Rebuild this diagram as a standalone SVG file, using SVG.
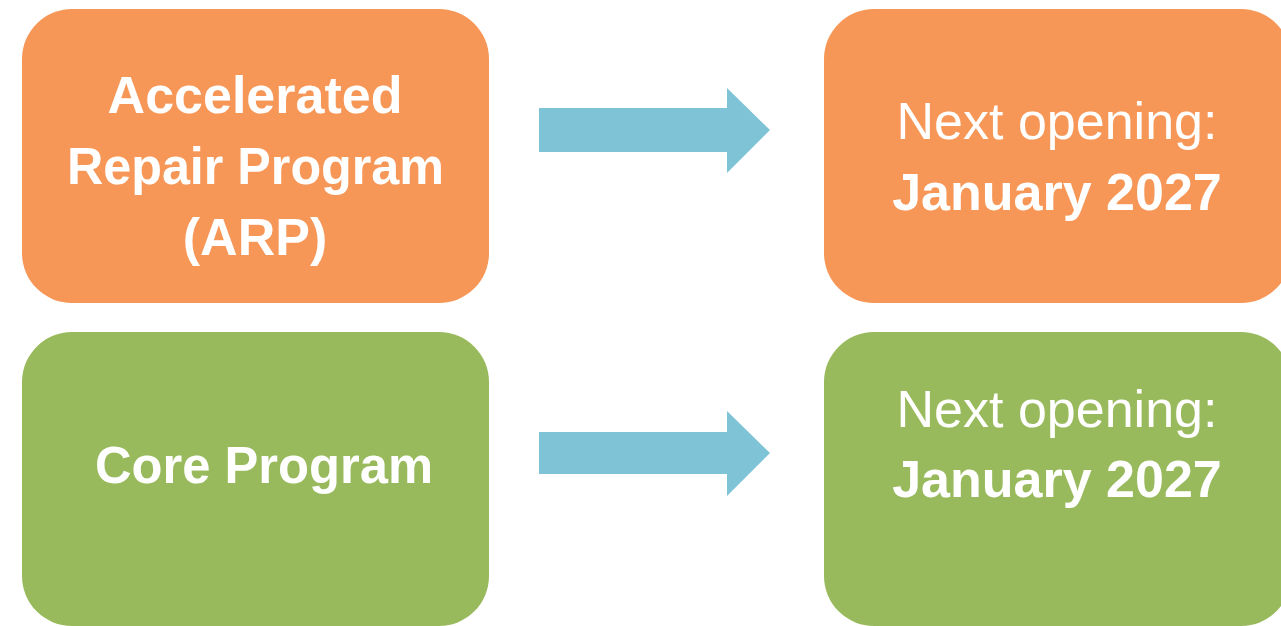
<svg xmlns="http://www.w3.org/2000/svg" width="1281" height="626" viewBox="0 0 1281 626">
<style>
.orange{fill:#F79757}
.green{fill:#99BA5C}
.arrow{fill:#7FC3D6}
.t{font-family:"Liberation Sans",Arial,sans-serif;font-size:52px;fill:#FFFFFF;text-anchor:middle}
.b{font-weight:bold}
</style>
<rect width="1281" height="626" fill="#FFFFFF"/>
<g id="node-arp">
<rect class="orange" x="22" y="9" width="467" height="294" rx="50" ry="50"/>
<text class="t b" x="255" y="113">Accelerated</text>
<text class="t b" x="255.5" y="184" textLength="377" lengthAdjust="spacingAndGlyphs">Repair Program</text>
<text class="t b" x="255" y="255">(ARP)</text>
</g>
<g id="node-arp-opening">
<rect class="orange" x="824" y="9" width="467" height="294" rx="50" ry="50"/>
<text class="t" x="1057" y="139">Next opening:</text>
<text class="t b" x="1057" y="210">January 2027</text>
</g>
<g id="node-core">
<rect class="green" x="22" y="332" width="467" height="294" rx="50" ry="50"/>
<text class="t b" x="264" y="483" textLength="338" lengthAdjust="spacingAndGlyphs">Core Program</text>
</g>
<g id="node-core-opening">
<rect class="green" x="824" y="332" width="467" height="294" rx="50" ry="50"/>
<text class="t" x="1057" y="427">Next opening:</text>
<text class="t b" x="1057" y="497">January 2027</text>
</g>
<g id="connectors">
<polygon class="arrow" points="539,108 727,108 727,88 770,130 727,173 727,152 539,152"/>
<polygon class="arrow" points="539,432 727,432 727,411 770,453 727,496 727,474 539,474"/>
</g>
</svg>
